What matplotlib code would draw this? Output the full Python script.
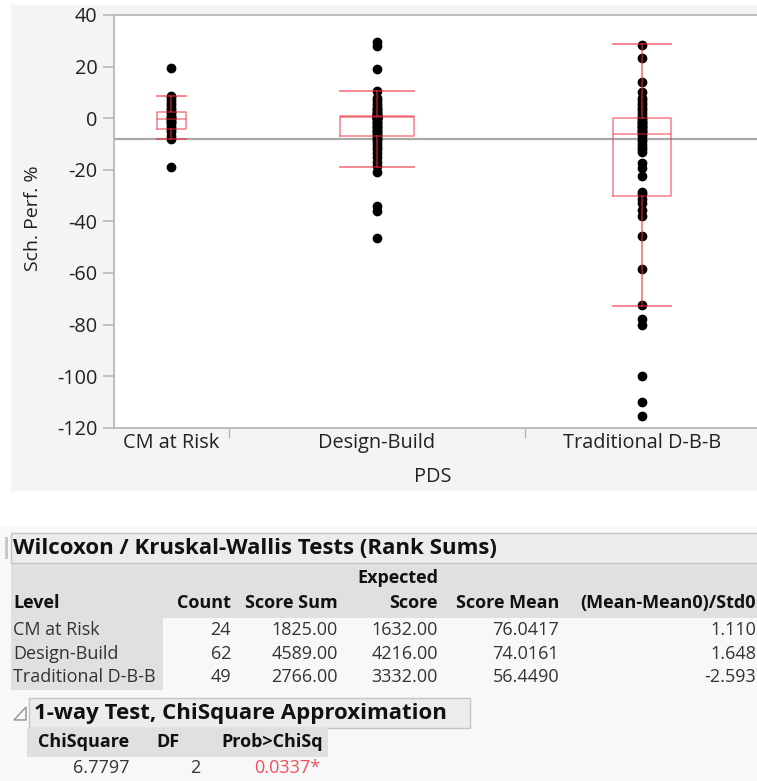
import numpy as np
import matplotlib.pyplot as plt
from matplotlib.patches import Rectangle, Polygon

plt.rcParams['font.family'] = ['Open Sans', 'DejaVu Sans']
plt.rcParams['axes.unicode_minus'] = False

categories = ['CM at Risk', 'Design-Build', 'Traditional D-B-B']
counts = [24, 62, 49]

cm_risk = [19.5, 8.5, 8.2, 7, 6, 5, 4, 3, 2.5, 2, 1, 0.5, 0, -0.5, -1, -1.5,
           -2, -3, -4, -4.5, -5.5, -7, -8.2, -19]
design_build = [29.5, 28, 19, 10.5, 8, 7, 6, 5, 4, 3.5, 3, 2.5, 2, 1.5, 1.2,
                1.0, 1.0, 0.9, 0.9, 0.8, 0.8, 0.7, 0.7, 0.6, 0.6, 0.5, 0.5, 0.4, 0.4, 0.3, 0.3,
                0.2, 0, 0, -0.5, -1, -1.5, -2, -2.5, -3, -3.5, -4, -4.5, -5, -5.5, -6, -6.5,
                -7, -7.5, -8, -9, -10, -11, -12, -13.5, -15, -17, -18.7, -21, -34, -36, -46.5]
traditional = [28.5, 23.5, 14, 10, 8, 7, 6, 5, 4, 3, 2, 1,
               0, -0.5, -1, -1.5, -2, -2.5, -3, -3.5, -4, -4.5, -5, -5.5, -6.1,
               -7, -8, -9, -10, -11, -12, -13, -17.5, -19.5, -22.5, -28.5, -29.5,
               -31.5, -33, -35.5, -38, -45.5, -58.5, -72.5, -78, -80, -100, -110, -115.5]

# outlier box stats as drawn by JMP
q1 = [-4.2, -6.9, -30.1]
med = [-0.4, 0.3, -6.1]
q3 = [2.5, 1.0, 0.0]
whis_lo = [-8.2, -18.8, -72.7]
whis_hi = [8.5, 10.5, 28.6]
grand_mean = -8.2

# Wilcoxon table
score_sum = [1825.00, 4589.00, 2766.00]
exp_score = [1632.00, 4216.00, 3332.00]
score_mean = [76.0417, 74.0161, 56.4490]
z_score = [1.110, 1.648, -2.593]
chisq = 6.7797
df = 2
prob = 0.0337

W, H = 757, 781
fig = plt.figure(figsize=(W / 100, H / 100), dpi=100)

bg = fig.add_axes([0, 0, 1, 1])
bg.set_xlim(0, W)
bg.set_ylim(H, 0)
bg.axis('off')
bg.add_patch(Rectangle((0, 0), W, H, color='white', zorder=0))
bg.add_patch(Rectangle((11, 5), W, 485, color='#f4f4f4', zorder=1))
bg.add_patch(Rectangle((0, 527), W, H, color='#f8f8f8', zorder=1))

# ---- plot ----
ax = fig.add_axes([114 / W, 1 - 427.7 / H, (759 - 114) / W, (427.7 - 15) / H])
ax.set_facecolor('white')
edges = np.cumsum(counts)
centers = edges - np.array(counts) / 2
ax.set_xlim(0, edges[-1])
ax.set_ylim(-120, 40)

ax.axhline(grand_mean, color='#a8a8a8', lw=1.6, zorder=1)
for c, vals in zip(centers, [cm_risk, design_build, traditional]):
    ax.plot([c] * len(vals), vals, 'o', color='black', ms=6, zorder=3)

stats = [dict(med=m, q1=a, q3=b, whislo=lo, whishi=hi, fliers=[])
         for m, a, b, lo, hi in zip(med, q1, q3, whis_lo, whis_hi)]
wid = [n * 0.25 for n in counts]
red = '#f0283c'
ax.bxp(stats, positions=centers, widths=wid, capwidths=wid, showfliers=False,
       manage_ticks=False,
       boxprops=dict(color=red, lw=1.1, alpha=0.6, zorder=4),
       medianprops=dict(color=red, lw=1.1, alpha=0.6, zorder=4),
       whiskerprops=dict(color=red, lw=1.3, alpha=0.6, zorder=4),
       capprops=dict(color=red, lw=1.3, alpha=0.6, zorder=4))

for s in ['left', 'top', 'bottom']:
    ax.spines[s].set_color('#b8b8b8')
    ax.spines[s].set_linewidth(1.3)
ax.spines['right'].set_visible(False)
ax.set_yticks(np.arange(-120, 41, 20))
ax.tick_params(axis='y', length=8, width=1.2, color='#b8b8b8', pad=4,
               labelsize=14.3, labelcolor='#222222')
ax.set_xticks(centers)
ax.set_xticklabels(categories)
ax.tick_params(axis='x', length=0, pad=4, labelsize=14.3, labelcolor='#222222')
ax.set_xticks(edges[:-1], minor=True)
ax.tick_params(axis='x', which='minor', length=7, width=1, color='#b8b8b8')

bg.text(33, 218, 'Sch. Perf. %', rotation=90, ha='center', va='center',
        fontsize=14, color='#222222', zorder=5)
bg.text(433, 477, 'PDS', ha='center', va='center', fontsize=14.3,
        color='#222222', zorder=5)

# ---- tables ----
tc = '#111111'
bfs = 13.0   # body font
hfs = 13.0   # header font
tfs = 16     # title font
bg.add_patch(Rectangle((11, 533), W, 30, fc='#ececec', ec='#c4c4c4', lw=1, zorder=2))
bg.add_patch(Rectangle((5, 537), 3, 22, fc='#c8c8c8', zorder=2))
bg.text(13, 549, 'Wilcoxon / Kruskal-Wallis Tests (Rank Sums)', fontsize=tfs,
        fontweight='bold', va='center', color=tc, zorder=5)
bg.add_patch(Rectangle((11, 564), W, 54, fc='#e0e0e0', zorder=2))
bg.add_patch(Rectangle((11, 618), 152, 72, fc='#e0e0e0', zorder=2))

hdr_y = 603
bg.text(13, hdr_y, 'Level', fontsize=hfs, fontweight='bold', va='center', color=tc, zorder=5)
cols_r = [231, 338, 438, 559, 756]
heads = ['Count', 'Score Sum', 'Score', 'Score Mean', '(Mean-Mean0)/Std0']
for x, h in zip(cols_r, heads):
    bg.text(x, hdr_y, h, fontsize=hfs, fontweight='bold', ha='right', va='center',
            color=tc, zorder=5)
bg.text(438, 578, 'Expected', fontsize=hfs, fontweight='bold', ha='right',
        va='center', color=tc, zorder=5)

row_y = [630, 654, 677]
for i, y in enumerate(row_y):
    bg.text(13, y, categories[i], fontsize=bfs, va='center', color='#333333', zorder=5)
    cells = [str(counts[i]), f'{score_sum[i]:.2f}', f'{exp_score[i]:.2f}',
             f'{score_mean[i]:.4f}', f'{z_score[i]:.3f}']
    for x, t in zip(cols_r, cells):
        bg.text(x, y, t, fontsize=bfs, ha='right', va='center', color='#333333', zorder=5)

# 1-way test section
bg.add_patch(Polygon([[14, 720], [26, 720], [26, 707]], closed=True, fc='none',
                     ec='#909090', lw=1, zorder=5))
bg.add_patch(Rectangle((29, 698), 441, 30, fc='#ececec', ec='#c4c4c4', lw=1, zorder=2))
bg.text(34, 713, '1-way Test, ChiSquare Approximation', fontsize=tfs,
        fontweight='bold', va='center', color=tc, zorder=5)
bg.add_patch(Rectangle((27, 728), 301, 29, fc='#e0e0e0', zorder=2))
bg.text(129, 742, 'ChiSquare', fontsize=hfs, fontweight='bold', ha='right',
        va='center', color=tc, zorder=5)
bg.text(180, 742, 'DF', fontsize=hfs, fontweight='bold', ha='right',
        va='center', color=tc, zorder=5)
bg.text(323, 742, 'Prob>ChiSq', fontsize=hfs, fontweight='bold', ha='right',
        va='center', color=tc, zorder=5)
bg.text(130, 768, f'{chisq:.4f}', fontsize=bfs, ha='right', va='center',
        color='#333333', zorder=5)
bg.text(200, 768, str(df), fontsize=bfs, ha='right', va='center',
        color='#333333', zorder=5)
bg.text(320, 768, f'{prob:.4f}*', fontsize=bfs, ha='right', va='center',
        color='#f0505a', zorder=5)

fig.savefig('out.png', dpi=100)
